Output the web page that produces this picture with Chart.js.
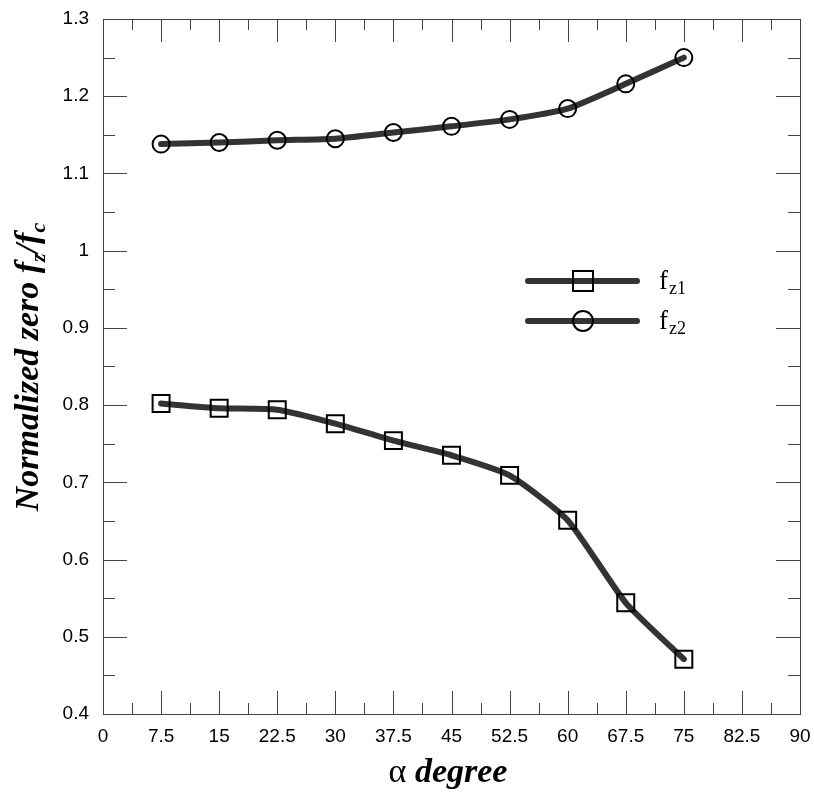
<!DOCTYPE html>
<html>
<head>
<meta charset="utf-8">
<script src="https://cdn.jsdelivr.net/npm/chart.js@4"></script>
<style>
  html, body { margin: 0; padding: 0; background: #fff; }
  #wrap { width: 814px; height: 793px; }
</style>
</head>
<body>
<div id="wrap"><canvas id="grafico" width="814" height="793"></canvas></div>
<script>
// valores
const angulos = [7.5, 15, 22.5, 30, 37.5, 45, 52.5, 60, 67.5, 75];
const fz1 = [0.802, 0.796, 0.794, 0.776, 0.754, 0.735, 0.709, 0.651, 0.544, 0.471];
const fz2 = [1.138, 1.140, 1.143, 1.145, 1.153, 1.161, 1.170, 1.184, 1.216, 1.250];
const rotulosSerie = ['z1', 'z2'];
const xMin = 0, xMax = 90, xPasso = 7.5;
const yMin = 0.4, yMax = 1.3, yPasso = 0.1;

const corLinha = '#333333';
const corMoldura = '#444444';
const fonteTicks = '"Liberation Sans", sans-serif';

function fmt(v) {
    return String(Number(v.toFixed(2)));
}

// marcas de escala para dentro, nos quatro lados
const pluginMoldura = {
    id: 'moldura',
    beforeDatasetsDraw(chart) {
        const ctx = chart.ctx;
        const a = chart.chartArea;
        const sx = chart.scales.x, sy = chart.scales.y;
        ctx.save();
        ctx.strokeStyle = corMoldura;
        ctx.lineWidth = 1;
        ctx.beginPath();
        for (let i = 1; i * xPasso / 2 < xMax - 0.001; i++) {
            const px = Math.round(sx.getPixelForValue(xMin + i * xPasso / 2)) + 0.5;
            const len = i % 2 === 0 ? 23 : 11;
            ctx.moveTo(px, a.bottom); ctx.lineTo(px, a.bottom - len);
            ctx.moveTo(px, a.top); ctx.lineTo(px, a.top + len);
        }
        for (let i = 1; yMin + i * yPasso / 2 < yMax - 0.001; i++) {
            const py = Math.round(sy.getPixelForValue(yMin + i * yPasso / 2)) + 0.5;
            const len = i % 2 === 0 ? 24 : 12;
            ctx.moveTo(a.left, py); ctx.lineTo(a.left + len, py);
            ctx.moveTo(a.right, py); ctx.lineTo(a.right - len, py);
        }
        ctx.stroke();
        ctx.strokeRect(Math.round(a.left) + 0.5, Math.round(a.top) + 0.5,
            Math.round(a.right - a.left), Math.round(a.bottom - a.top));
        ctx.restore();
    },
    afterDraw(chart) {
        const ctx = chart.ctx;
        ctx.save();
        ctx.fillStyle = '#000';
        ctx.textBaseline = 'alphabetic';

        // titulo do eixo y
        const partes = [
            { t: 'Normalized zero f', f: 'bold italic 34px "Liberation Serif"', dy: 0 },
            { t: 'z', f: 'bold italic 22px "Liberation Serif"', dy: 7 },
            { t: '/f', f: 'bold italic 34px "Liberation Serif"', dy: 0 },
            { t: 'c', f: 'bold italic 22px "Liberation Serif"', dy: 7 }
        ];
        let total = 0;
        partes.forEach(p => { ctx.font = p.f; total += ctx.measureText(p.t).width; });
        ctx.translate(38, 367);
        ctx.rotate(-Math.PI / 2);
        let x = -total / 2;
        partes.forEach(p => {
            ctx.font = p.f;
            ctx.fillText(p.t, x, p.dy);
            x += ctx.measureText(p.t).width;
        });
        ctx.setTransform(1, 0, 0, 1, 0, 0);

        // titulo do eixo x
        ctx.font = '34px "Liberation Serif"';
        const alfa = '\u03B1 ';
        const wa = ctx.measureText(alfa).width;
        ctx.font = 'bold italic 34px "Liberation Serif"';
        const wd = ctx.measureText('degree').width;
        let x0 = 448 - (wa + wd) / 2;
        ctx.font = '34px "Liberation Serif"';
        ctx.fillText(alfa, x0, 782);
        ctx.font = 'bold italic 34px "Liberation Serif"';
        ctx.fillText('degree', x0 + wa, 782);

        // legenda
        const ys = [281, 321];
        chart.data.datasets.forEach((ds, i) => {
            const y = ys[i];
            ctx.strokeStyle = corLinha;
            ctx.lineWidth = 6;
            ctx.lineCap = 'round';
            ctx.beginPath();
            ctx.moveTo(528, y); ctx.lineTo(637, y);
            ctx.stroke();
            ctx.strokeStyle = '#000';
            ctx.lineWidth = 2;
            ctx.beginPath();
            if (ds.pointStyle === 'rect') ctx.rect(573, y - 10, 20, 20);
            else ctx.arc(583, y, 10, 0, Math.PI * 2);
            ctx.stroke();
            ctx.font = '27px "Liberation Serif"';
            ctx.fillText('f', 659, y + 8);
            const wf = ctx.measureText('f').width;
            ctx.font = '18px "Liberation Serif"';
            ctx.fillText(rotulosSerie[i], 659 + wf + 1, y + 13);
        });
        ctx.restore();
    }
};

const baseSerie = {
    borderColor: corLinha,
    borderWidth: 6,
    borderCapStyle: 'round',
    borderJoinStyle: 'round',
    tension: 0.18,
    pointBackgroundColor: 'rgba(0,0,0,0)',
    pointBorderColor: '#000',
    pointBorderWidth: 2,
    pointHoverRadius: 0,
    fill: false
};

new Chart(document.getElementById('grafico').getContext('2d'), {
    type: 'line',
    data: {
        datasets: [
            Object.assign({}, baseSerie, {
                label: 'fz1',
                data: angulos.map((a, i) => ({ x: a, y: fz1[i] })),
                pointStyle: 'rect',
                pointRadius: 12
            }),
            Object.assign({}, baseSerie, {
                label: 'fz2',
                data: angulos.map((a, i) => ({ x: a, y: fz2[i] })),
                pointStyle: 'circle',
                pointRadius: 8.5
            })
        ]
    },
    options: {
        responsive: false,
        animation: false,
        events: [],
        layout: { padding: { top: 19, right: 11, left: 0, bottom: 0 } },
        plugins: {
            legend: { display: false },
            tooltip: { enabled: false }
        },
        scales: {
            x: {
                type: 'linear',
                min: xMin,
                max: xMax,
                afterFit(s) { s.height = 79; s.paddingLeft = 0; s.paddingRight = 0; },
                grid: { display: false, drawTicks: false },
                border: { display: false },
                ticks: {
                    stepSize: xPasso,
                    autoSkip: false,
                    maxRotation: 0,
                    padding: 11,
                    color: '#000',
                    font: { family: fonteTicks, size: 19 },
                    callback: v => fmt(v)
                }
            },
            y: {
                type: 'linear',
                min: yMin,
                max: yMax,
                afterFit(s) { s.width = 103; s.paddingTop = 0; s.paddingBottom = 0; },
                grid: { display: false, drawTicks: false },
                border: { display: false },
                ticks: {
                    stepSize: yPasso,
                    autoSkip: false,
                    padding: 14,
                    color: '#000',
                    font: { family: fonteTicks, size: 19 },
                    callback: v => fmt(v)
                }
            }
        }
    },
    plugins: [pluginMoldura]
});
</script>
</body>
</html>
